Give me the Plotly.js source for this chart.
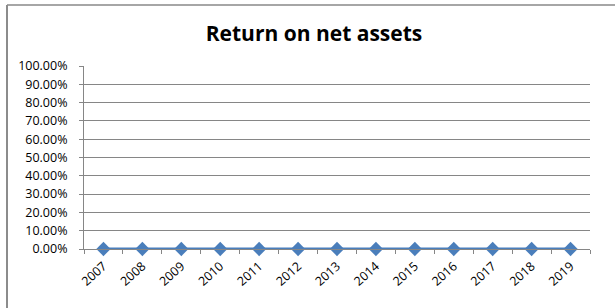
<!DOCTYPE html>
<html>
<head>
<meta charset="utf-8">
<script src="https://cdn.plot.ly/plotly-3.0.1.min.js"></script>
<style>
html,body{margin:0;padding:0;background:#fff;overflow:hidden;}
#chart{width:615px;height:308px;}
</style>
</head>
<body>
<div id="chart"></div>
<script>
const years = ['2007','2008','2009','2010','2011','2012','2013','2014','2015','2016','2017','2018','2019'];
const returnOnNetAssets = [0,0,0,0,0,0,0,0,0,0,0,0,0];
const yTickVals = [0,0.1,0.2,0.3,0.4,0.5,0.6,0.7,0.8,0.9,1.0];

const W = 615, H = 308, M = {l: 84, r: 25, t: 66, b: 59};
const pw = W - M.l - M.r, ph = H - M.t - M.b;
const px = v => (v - M.l) / pw;
const py = v => (H - M.b - v) / ph;

const trace = {
  x: years,
  y: returnOnNetAssets,
  type: 'scatter',
  mode: 'lines+markers',
  line: {color: '#4a7ebb', width: 3},
  marker: {symbol: 'diamond', size: 11, color: '#4a7ebb'},
  cliponaxis: false,
  hoverinfo: 'none'
};

const layout = {
  width: W, height: H,
  margin: M,
  paper_bgcolor: '#ffffff',
  plot_bgcolor: '#ffffff',
  showlegend: false,
  title: {
    text: '<b>Return on net assets</b>',
    font: {family: 'Open Sans', size: 21, color: '#000'},
    xref: 'container', x: 314/615, xanchor: 'center',
    yref: 'container', y: 1 - 34/308, yanchor: 'middle'
  },
  font: {family: 'Open Sans', size: 12.5, color: '#000'},
  shapes: [
    {type: 'line', xref: 'paper', yref: 'paper', x0: px(7), x1: px(640), y0: py(5), y1: py(5), line: {color: '#a6a6a6', width: 2}},
    {type: 'line', xref: 'paper', yref: 'paper', x0: px(7), x1: px(7), y0: py(5), y1: py(330), line: {color: '#8c8c8c', width: 2}}
  ],
  xaxis: {
    type: 'category',
    range: [-0.5, 12.5],
    tickangle: -42,
    tickson: 'boundaries',
    ticks: 'outside', ticklen: 4, tickcolor: '#868686', tickwidth: 1,
    ticklabelstandoff: 4,
    showline: true, linecolor: '#868686', linewidth: 1,
    showgrid: false, zeroline: false,
    tickfont: {family: 'Open Sans', size: 12.5, color: '#000'}
  },
  yaxis: {
    range: [0, 1],
    tickvals: yTickVals,
    tickformat: '.2%',
    ticks: 'outside', ticklen: 4, tickcolor: '#868686', tickwidth: 1,
    ticklabelstandoff: 9,
    showline: true, linecolor: '#868686', linewidth: 1,
    showgrid: true, gridcolor: '#868686', gridwidth: 1,
    zeroline: false,
    tickfont: {family: 'Open Sans', size: 12.5, color: '#000'}
  }
};

Plotly.newPlot('chart', [trace], layout, {staticPlot: true, displayModeBar: false});
</script>
</body>
</html>
